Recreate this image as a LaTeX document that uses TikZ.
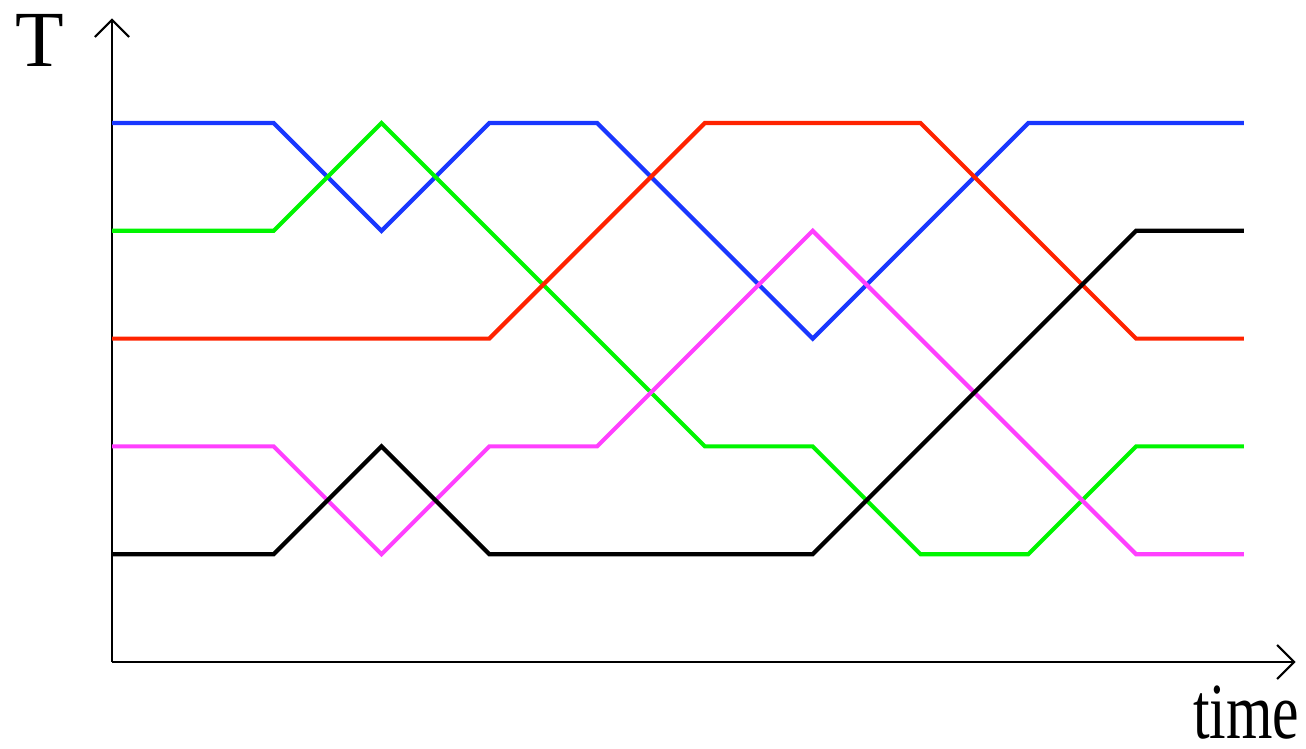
\documentclass[tikz,border=0pt]{standalone}
\usepackage{fontspec}
\setmainfont{Liberation Serif}
\newfontfamily\timefont[FakeStretch=0.75]{Liberation Serif}
\usetikzlibrary{arrows.meta}
\definecolor{cblue}{RGB}{25,55,255}
\definecolor{cgreen}{RGB}{0,245,0}
\definecolor{cred}{RGB}{255,35,0}
\definecolor{cmag}{RGB}{255,64,255}
\begin{document}
\begin{tikzpicture}[x=1cm,y=1cm,
  axis/.style={line width=0.55pt,-{Straight Barb[length=4.5pt,width=9pt,line width=0.55pt]}},
  trace/.style={line width=1.1pt,line join=miter},
  lbl/.style={inner sep=0pt,font=\fontsize{21}{25}\selectfont}]
\useasboundingbox (-1.039,-0.798) rectangle (11.076,6.141);
\coordinate (O) at (0,0);
\coordinate (Yend) at (0,5.97);
\coordinate (Xend) at (10.98,0);
\draw[axis] (O) -- (Yend);
\draw[axis] (O) -- (Xend);
\node[lbl,anchor=base west] (T) at (-0.9,5.52) {T};
\node[lbl,anchor=base east] (time) at (11.02,-0.71) {\timefont time};
\draw[trace,cblue] (0,5) -- (1.5,5) -- (2.5,4) -- (3.5,5) -- (4.5,5) -- (6.5,3) -- (8.5,5) -- (10.5,5);
\draw[trace,cgreen] (0,4) -- (1.5,4) -- (2.5,5) -- (5.5,2) -- (6.5,2) -- (7.5,1) -- (8.5,1) -- (9.5,2) -- (10.5,2);
\draw[trace,cred] (0,3) -- (3.5,3) -- (5.5,5) -- (7.5,5) -- (9.5,3) -- (10.5,3);
\draw[trace,cmag] (0,2) -- (1.5,2) -- (2.5,1) -- (3.5,2) -- (4.5,2) -- (6.5,4) -- (9.5,1) -- (10.5,1);
\draw[trace,black] (0,1) -- (1.5,1) -- (2.5,2) -- (3.5,1) -- (6.5,1) -- (9.5,4) -- (10.5,4);
\end{tikzpicture}
\end{document}
